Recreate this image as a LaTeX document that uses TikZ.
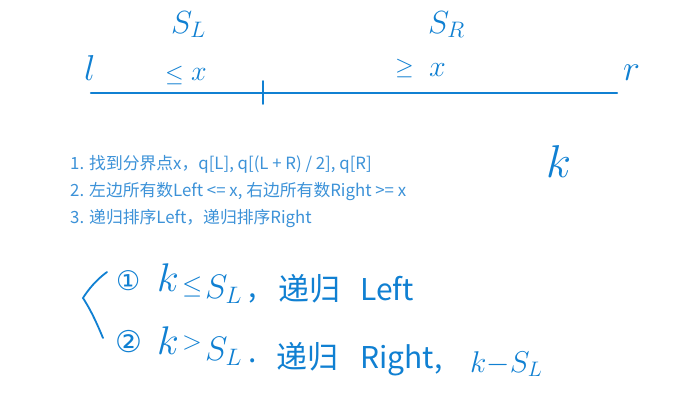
\RequirePackage{fix-cm}
\documentclass[tikz,border=0pt]{standalone}
\usepackage{fontspec}
\setmainfont{Noto Sans CJK SC}
\newfontfamily\djv{DejaVu Sans}
\definecolor{hand}{RGB}{16,128,210}
\definecolor{typed}{RGB}{60,146,216}
\begin{document}
\begin{tikzpicture}[x=1pt,y=-1pt,
  hw/.style={text=hand, inner sep=0pt, anchor=base west, font=\fontsize{#1}{#1}\selectfont},
  hw/.default=30,
  typedtext/.style={text=typed, inner sep=0pt, anchor=base west, font=\fontsize{16.8}{16.8}\selectfont},
  stroke/.style={draw=hand, line width=2.2pt, line cap=round}]
\useasboundingbox[fill=white] (0,0) rectangle (683,418);
% number line
\coordinate (lineL) at (91,93);
\coordinate (lineR) at (617,93);
\coordinate (tickT) at (263,81);
\coordinate (tickB) at (263,104);
\draw[stroke] (lineL) -- (lineR);
\draw[stroke, line width=1.6pt] (tickT) -- (tickB);
\node[hw=36] (l) at (84,80) {$l$};
\node[hw=36] (r) at (623,80) {$r$};
\node[hw=32] (SL) at (171,33) {$S_L$};
\node[hw=32] (SR) at (428,33) {$S_R$};
\node[hw=24] (le) at (165,81) {$\leq$};
\node[hw=28] (lex) at (191,80) {$x$};
\node[hw=24] (ge) at (395,74) {$\geq$};
\node[hw=30] (gex) at (429,76) {$x$};
\node[hw=46] (k) at (546,177) {$k$};
% typed steps
\node[typedtext] (t1) at (70,169) {1. 找到分界点x，q[L], q[(L + R) / 2], q[R]};
\node[typedtext] (t2) at (70,196) {2. 左边所有数Left <= x, 右边所有数Right >= x};
\node[typedtext] (t3) at (70,223) {3. 递归排序Left，递归排序Right};
% brace
\coordinate (bT) at (107,272);
\coordinate (bM) at (83,298);
\coordinate (bB) at (103,338);
\draw[stroke, line width=1.8pt] (bT) .. controls (96,280) and (88,290) .. (bM) .. controls (92,312) and (98,326) .. (bB);
% case 1
\node[hw=27] (c1) at (116,290) {\djv ①};
\node[hw=40] (c1k) at (157,291) {$k$};
\node[hw=26] (c1le) at (182,293) {$\leq$};
\node[hw=34] (c1S) at (205,298) {$S_L$};
\node[hw=30] (c1c) at (248,297) {,};
\node[hw=31] (c1d) at (278,300) {递归};
\node[hw=30] (c1e) at (360,300) {Left};
% case 2
\node[hw=30] (c2) at (115,352) {\djv ②};
\node[hw=40] (c2k) at (157,354) {$k$};
\node[hw=26] (c2gt) at (182,349) {$>$};
\node[hw=34] (c2S) at (205,360) {$S_L$};
\node[hw=30] (c2p) at (248,362) {.};
\node[hw=31] (c2d) at (276,368) {递归};
\node[hw=30] (c2e) at (360,368) {Right,};
\node[hw=30] (c2f) at (470,372) {$k{-}S_L$};
\end{tikzpicture}
\end{document}
